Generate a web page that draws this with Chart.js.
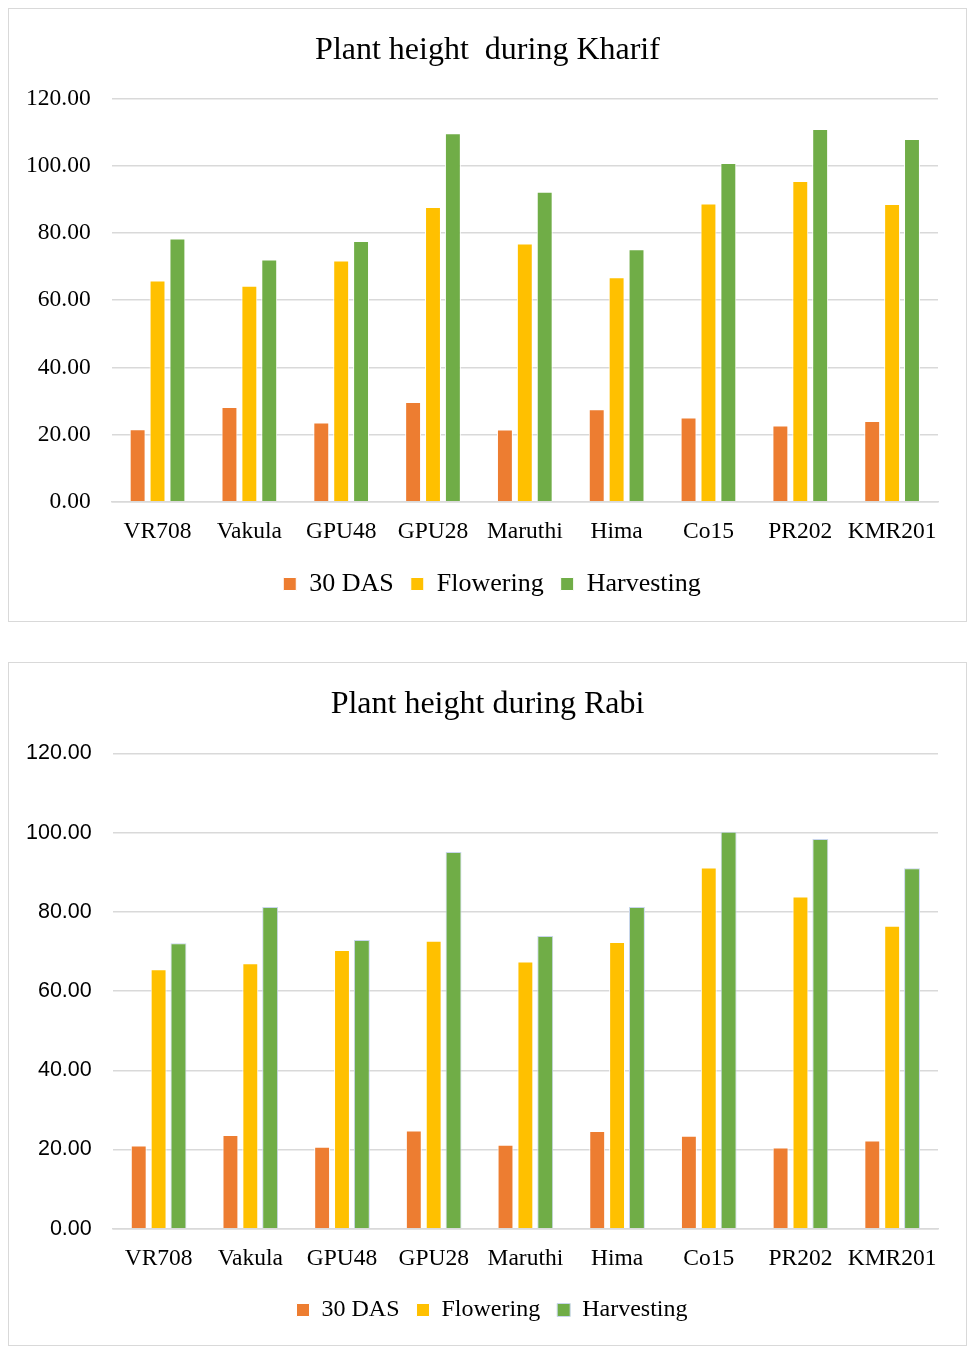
<!DOCTYPE html>
<html>
<head>
<meta charset="utf-8">
<script src="https://cdn.jsdelivr.net/npm/chart.js@4.4.1/dist/chart.umd.min.js"></script>
<style>
  body { margin: 0; background: #fff; }
  .box { position: absolute; left: 8px; width: 959px; border: 1px solid #d9d9d9; box-sizing: border-box; }
  #box1 { top: 8px; height: 614px; }
  #box2 { top: 662px; height: 684px; }
  canvas { display: block; }
</style>
</head>
<body>
<div class="box" id="box1"><canvas id="graficoKharif"></canvas></div>
<div class="box" id="box2"><canvas id="graficoRabi"></canvas></div>
<script>
const variedades = ["VR708", "Vakula", "GPU48", "GPU28", "Maruthi", "Hima", "Co15", "PR202", "KMR201"];
const series = ["30 DAS", "Flowering", "Harvesting"];

// Kharif
const kharif30Das = [21.6, 28.2, 23.6, 29.7, 21.5, 27.5, 25.1, 22.7, 24.0];
const kharifFlowering = [65.8, 64.3, 71.8, 87.7, 76.8, 66.8, 88.7, 95.4, 88.6];
const kharifHarvesting = [78.3, 72.1, 77.6, 109.6, 92.2, 75.1, 100.8, 110.9, 107.9];

// Rabi
const rabi30Das = [21.0, 23.7, 20.7, 24.8, 21.2, 24.7, 23.5, 20.5, 22.3];
const rabiFlowering = [65.5, 67.0, 70.4, 72.7, 67.5, 72.4, 91.2, 83.9, 76.5];
const rabiHarvesting = [72.1, 81.2, 72.9, 95.1, 73.9, 81.2, 100.2, 98.4, 91.0];

const yTicks = [0, 20, 40, 60, 80, 100, 120];

const cores = ["#ED7D31", "#FFC000", "#70AD47"];
const serif = "'Liberation Serif', 'Times New Roman', serif";
const sans = "'Liberation Sans', Arial, sans-serif";
const paddingY = 21;

// título e legenda ficam centrados no quadro, não no espaço entre os paddings
const centrarBlocos = {
  id: "centrarBlocos",
  afterLayout(chart) {
    if (chart.titleBlock) {
      chart.titleBlock.left += 5.5;
      chart.titleBlock.right += 5.5;
    }
    if (chart.legend) {
      chart.legend.left += 10;
      chart.legend.right += 10;
    }
  },
};

function montarDatasets(valores, bordaVerde) {
  return valores.map((dados, i) => ({
    label: series[i],
    data: dados,
    backgroundColor: cores[i],
    borderColor: i === 2 ? bordaVerde : "#ffffff",
    borderWidth: 1,
    categoryPercentage: 0.65,
    barPercentage: 0.8,
  }));
}

function configurarGrafico(id, titulo, valores, opcoes) {
  const ctx = document.getElementById(id).getContext("2d");
  return new Chart(ctx, {
    type: "bar",
    data: {
      labels: variedades,
      datasets: montarDatasets(valores, opcoes.bordaVerde),
    },
    plugins: [centrarBlocos],
    options: {
      responsive: true,
      maintainAspectRatio: false,
      animation: false,
      layout: { padding: opcoes.padding },
      plugins: {
        title: {
          display: true,
          text: titulo,
          color: "#000",
          font: { family: serif, size: 32, weight: "normal" },
          padding: opcoes.tituloPadding,
        },
        legend: {
          position: "bottom",
          labels: {
            color: "#000",
            boxWidth: 13,
            boxHeight: 13,
            padding: 17,
            font: { family: serif, size: opcoes.legendaTamanho },
          },
        },
        tooltip: { enabled: false },
      },
      scales: {
        x: {
          grid: { display: false },
          border: { color: "#d9d9d9", width: 1.5 },
          ticks: {
            color: "#000",
            font: { family: serif, size: 23.5 },
            padding: 8,
            maxRotation: 0,
            autoSkip: false,
          },
        },
        y: {
          min: 0,
          max: 120,
          afterBuildTicks: (eixo) => { eixo.ticks = yTicks.map((v) => ({ value: v })); },
          // o padding dos ticks entra duas vezes na largura do eixo; tira uma
          afterFit: (eixo) => { eixo.width -= paddingY; },
          grid: { color: "#d9d9d9", lineWidth: 1.5, drawTicks: false },
          border: { display: false },
          ticks: {
            color: "#000",
            padding: paddingY,
            font: { family: opcoes.fonteY, size: opcoes.tamanhoY },
            callback: (v) => Number(v).toFixed(2),
          },
        },
      },
    },
  });
}

configurarGrafico("graficoKharif", "Plant height  during Kharif",
  [kharif30Das, kharifFlowering, kharifHarvesting],
  {
    padding: { left: 17, right: 28, top: 0, bottom: 14 },
    tituloPadding: { top: 22, bottom: 29 },
    legendaTamanho: 26,
    fonteY: serif,
    tamanhoY: 23.5,
    bordaVerde: "#ffffff",
  });

configurarGrafico("graficoRabi", "Plant height during Rabi",
  [rabi30Das, rabiFlowering, rabiHarvesting],
  {
    padding: { left: 17, right: 28, top: 0, bottom: 13 },
    tituloPadding: { top: 22, bottom: 30 },
    legendaTamanho: 24,
    fonteY: sans,
    tamanhoY: 21.5,
    bordaVerde: "#c9d6ec",
  });
</script>
</body>
</html>
